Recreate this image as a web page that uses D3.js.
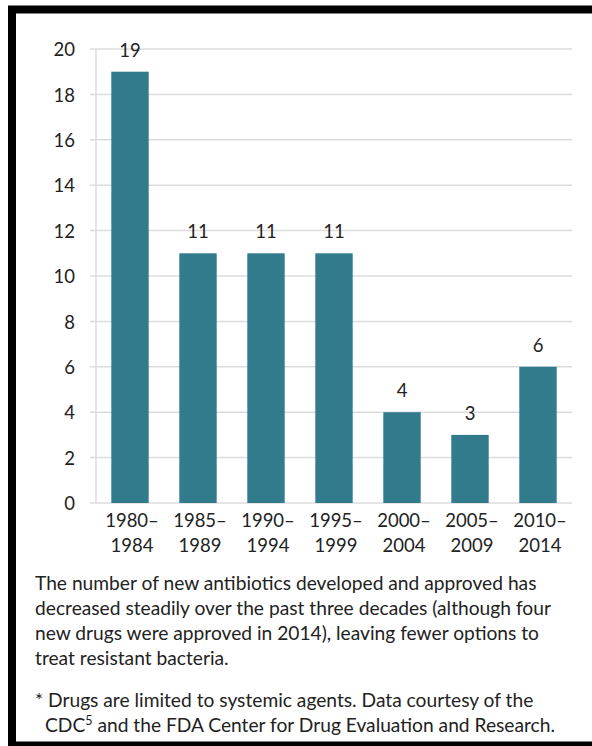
<!DOCTYPE html>
<html>
<head>
<meta charset="utf-8">
<script src="https://cdn.jsdelivr.net/npm/d3@7"></script>
<style>
  html, body { margin: 0; padding: 0; background: #fff; }
  svg { display: block; }
  text { font-family: Lato, "Open Sans", sans-serif; fill: #222; }
</style>
</head>
<body>
<svg id="chart" width="592" height="746"></svg>
<script>
// Data
const categories = [["1980–", "1984"], ["1985–", "1989"], ["1990–", "1994"], ["1995–", "1999"], ["2000–", "2004"], ["2005–", "2009"], ["2010–", "2014"]];
const values = [19, 11, 11, 11, 4, 3, 6];
const yTicks = [0, 2, 4, 6, 8, 10, 12, 14, 16, 18, 20];
const captionLines = [
  "The number of new antibiotics developed and approved has",
  "decreased steadily over the past three decades (although four",
  "new drugs were approved in 2014), leaving fewer options to",
  "treat resistant bacteria."
];
const footnoteLines = [
  ["* Drugs are limited to systemic agents. Data courtesy of the"],
  ["CDC", "5", " and the FDA Center for Drug Evaluation and Research."]
];

const svg = d3.select("#chart");

// Frame
svg.append("rect")
  .attr("x", 12).attr("y", 9.5)
  .attr("width", 640).attr("height", 736)
  .attr("fill", "none").attr("stroke", "#000").attr("stroke-width", 8);

const x = d3.scaleBand()
  .domain(d3.range(categories.length))
  .range([96, 572])
  .paddingInner(0.45)
  .paddingOuter(0.225);

const y = d3.scaleLinear().domain([0, 20]).range([503, 49]);

// Gridlines
const yAxis = d3.axisLeft(y).tickValues(yTicks).tickSize(0).tickPadding(0);
svg.append("g").selectAll("line.grid").data(yTicks).join("line")
  .attr("x1", 90).attr("x2", 572)
  .attr("y1", d => y(d)).attr("y2", d => y(d))
  .attr("stroke", "#dcdcdc").attr("stroke-width", 1.5);

// vertical axis line
svg.append("line")
  .attr("x1", 96).attr("x2", 96)
  .attr("y1", y(20)).attr("y2", y(0))
  .attr("stroke", "#dcdcdc").attr("stroke-width", 1.5);

// Y tick labels
const gy = svg.append("g").attr("transform", "translate(75,0)").call(yAxis);
gy.select(".domain").remove();
gy.selectAll("text")
  .attr("font-size", 18.5)
  .attr("font-family", "Lato, sans-serif")
  .attr("fill", "#222")
  .attr("dy", "0.36em");

// Bars
svg.append("g").selectAll("rect").data(values).join("rect")
  .attr("x", (d, i) => x(i))
  .attr("width", x.bandwidth())
  .attr("y", d => y(d))
  .attr("height", d => y(0) - y(d))
  .attr("fill", "#317b8c");

// Value labels
svg.append("g").selectAll("text").data(values).join("text")
  .attr("x", (d, i) => x(i) + x.bandwidth() / 2)
  .attr("y", d => y(d) - 15)
  .attr("text-anchor", "middle")
  .attr("font-size", 18.5)
  .text(d => d);

// X labels
const xl = svg.append("g").selectAll("text").data(categories).join("text")
  .attr("text-anchor", "middle")
  .attr("font-size", 18.5);
xl.each(function(d, i) {
  const t = d3.select(this);
  const cx = x(i) + x.bandwidth() / 2 + 2;
  t.append("tspan").attr("x", cx).attr("y", 527).text(d[0]);
  t.append("tspan").attr("x", cx).attr("y", 552).text(d[1]);
});

// Caption
svg.append("g").selectAll("text").data(captionLines).join("text")
  .attr("x", 35)
  .attr("y", (d, i) => 590 + i * 25)
  .attr("font-size", 19.2)
  .text(d => d);

// Footnote
const fn = svg.append("g").selectAll("text").data(footnoteLines).join("text")
  .attr("x", (d, i) => i === 0 ? 35 : 45)
  .attr("y", (d, i) => 707 + i * 25)
  .attr("font-size", 19.2);
fn.each(function(d) {
  const t = d3.select(this);
  if (d.length === 1) {
    t.text(d[0]);
  } else {
    t.append("tspan").text(d[0]);
    t.append("tspan").attr("dy", -7).attr("font-size", 12.5).text(d[1]);
    t.append("tspan").attr("dy", 7).text(d[2]);
  }
});
</script>
</body>
</html>
